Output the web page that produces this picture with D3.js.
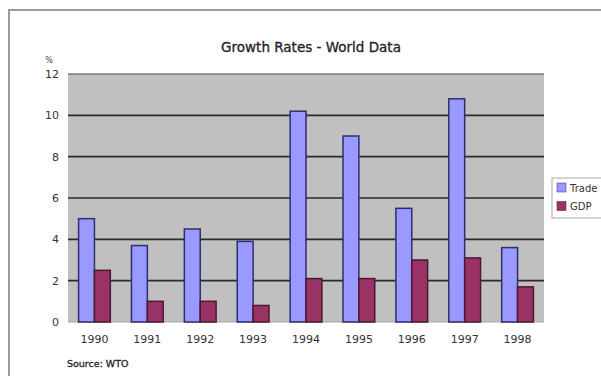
<!DOCTYPE html>
<html><head><meta charset="utf-8">
<script src="https://cdn.jsdelivr.net/npm/d3@7"></script>
<style>html,body{margin:0;padding:0;background:#fff;overflow:hidden}</style>
</head><body>
<script>
const years = ["1990","1991","1992","1993","1994","1995","1996","1997","1998"];
const trade = [5.0, 3.7, 4.5, 3.9, 10.2, 9.0, 5.5, 10.8, 3.6];
const gdp   = [2.5, 1.0, 1.0, 0.8, 2.1, 2.1, 3.0, 3.1, 1.7];
const seriesNames = ["Trade", "GDP"];
const yTicks = [0, 2, 4, 6, 8, 10, 12];
const title = "Growth Rates - World Data";
const source = "Source: WTO";

const W = 601, H = 376;
const svg = d3.select("body").append("svg").attr("width", W).attr("height", H);
const font = "'DejaVu Sans', Verdana, sans-serif";

// outer frame
svg.append("rect").attr("x", 9).attr("y", 10).attr("width", 700).attr("height", 500)
  .attr("fill", "#fff").attr("stroke", "#9a9a9a").attr("stroke-width", 2);

const m = {left: 68, top: 74, right: 544, bottom: 322};
const x0 = d3.scaleBand().domain(years).range([m.left, m.right]).paddingInner(0.4).paddingOuter(0.2);
const x1 = d3.scaleBand().domain(seriesNames).range([0, x0.bandwidth()]);
const y = d3.scaleLinear().domain([0, 12]).range([m.bottom, m.top]);

// plot background
svg.append("rect").attr("x", m.left).attr("y", m.top).attr("width", m.right - m.left).attr("height", m.bottom - m.top)
  .attr("fill", "#c0c0c0");
svg.append("line").attr("x1", m.left).attr("x2", m.right).attr("y1", m.top).attr("y2", m.top)
  .attr("stroke", "#7a7a7a").attr("stroke-width", 1.5);

// gridlines
svg.append("g").selectAll("line").data(yTicks.filter(d => d > 0 && d < 12)).join("line")
  .attr("x1", m.left).attr("x2", m.right).attr("y1", d => y(d)).attr("y2", d => y(d))
  .attr("stroke", "#2a2a2a").attr("stroke-width", 1.6);
svg.append("line").attr("x1", m.left).attr("x2", m.right).attr("y1", y(0)).attr("y2", y(0))
  .attr("stroke", "#a8a8a8").attr("stroke-width", 1);

// y axis
const yAxis = d3.axisLeft(y).tickValues(yTicks).tickSize(0).tickPadding(9);
const ga = svg.append("g").attr("transform", `translate(${m.left},0)`).call(yAxis);
ga.select(".domain").remove();
ga.selectAll("text").attr("font-family", font).attr("font-size", 11).attr("fill", "#333");

// x axis
const xAxis = d3.axisBottom(x0).tickSize(0).tickPadding(13);
const gx = svg.append("g").attr("transform", `translate(0,${m.bottom})`).call(xAxis);
gx.select(".domain").remove();
gx.selectAll("text").attr("font-family", font).attr("font-size", 11).attr("fill", "#333");

// bars
const colors = {Trade: "#9999ff", GDP: "#993366"};
const strokes = {Trade: "#2e2e6e", GDP: "#4a1830"};
const rows = years.map((yr, i) => ({yr, vals: [{k: "Trade", v: trade[i]}, {k: "GDP", v: gdp[i]}]}));
svg.append("g").selectAll("g").data(rows).join("g")
  .attr("transform", d => `translate(${x0(d.yr)},0)`)
  .selectAll("rect").data(d => d.vals).join("rect")
  .attr("x", d => x1(d.k)).attr("width", x1.bandwidth())
  .attr("y", d => y(d.v)).attr("height", d => y(0) - y(d.v))
  .attr("fill", d => colors[d.k]).attr("stroke", d => strokes[d.k]).attr("stroke-width", 1.5);

// title
svg.append("text").attr("x", 311).attr("y", 52).attr("text-anchor", "middle")
  .attr("font-family", font).attr("font-size", 13.5).attr("fill", "#222")
  .attr("stroke", "#222").attr("stroke-width", 0.3).text(title);

// % label
svg.append("text").attr("x", 49).attr("y", 63).attr("text-anchor", "middle")
  .attr("font-family", font).attr("font-size", 8).attr("fill", "#444").text("%");

// source
svg.append("text").attr("x", 67).attr("y", 367)
  .attr("font-family", font).attr("font-size", 9.5).attr("fill", "#222")
  .attr("stroke", "#222").attr("stroke-width", 0.3).text(source);

// legend
const lg = svg.append("g");
lg.append("rect").attr("x", 552).attr("y", 178).attr("width", 80).attr("height", 40)
  .attr("fill", "#fff").attr("stroke", "#aaa").attr("stroke-width", 1);
seriesNames.forEach((s, i) => {
  lg.append("rect").attr("x", 557).attr("y", 183 + i * 18.5).attr("width", 9).attr("height", 9)
    .attr("fill", colors[s]).attr("stroke", strokes[s]).attr("stroke-width", 0.5);
  lg.append("text").attr("x", 570).attr("y", 191.5 + i * 18.5)
    .attr("font-family", font).attr("font-size", 10).attr("fill", "#333").text(s);
});
</script>
</body></html>
